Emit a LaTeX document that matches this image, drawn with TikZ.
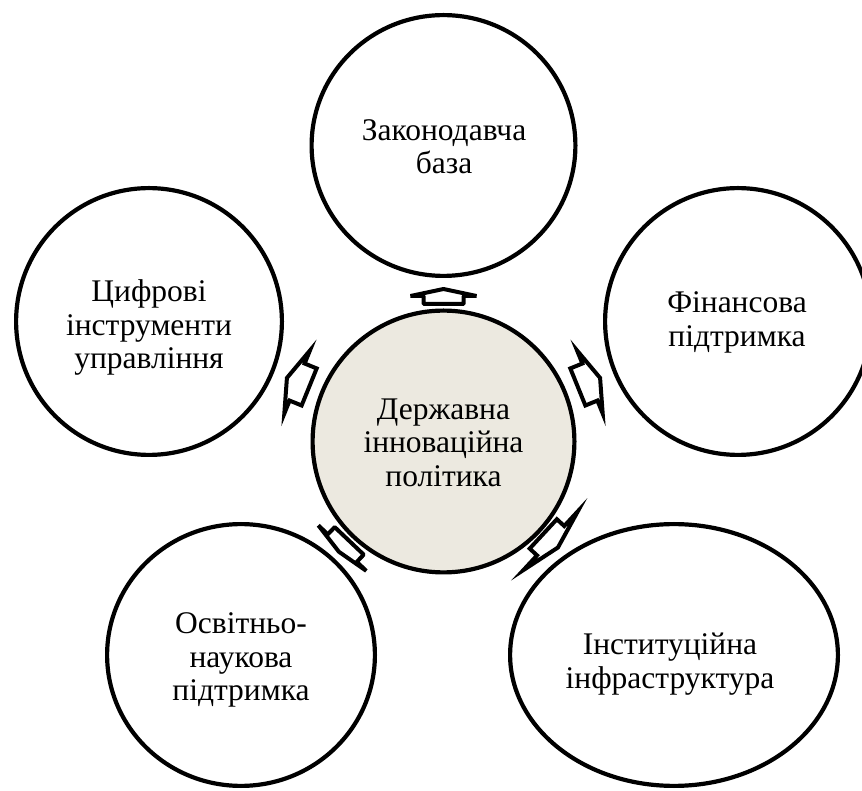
\documentclass[tikz,border=0pt]{standalone}
\usepackage{fontspec}
\setmainfont{Liberation Serif}
\usetikzlibrary{shapes.geometric}
\definecolor{centrefill}{RGB}{236,233,224}
\tikzset{
  bubble/.style={ellipse, draw=black, line width=4.2pt, fill=white, inner sep=0pt},
  caption/.style={align=center, inner sep=0pt, font=\fontsize{31.5}{33.5}\selectfont, text=black},
  arrowbox/.style={draw=black, fill=white, line width=4pt, line join=miter},
}
% #1 coordinate, #2 angle, #3 half head width, #4 head length, #5 half shaft width, #6 shaft length, #7 extra options
\newcommand{\blockarr}[7]{%
  \draw[arrowbox,#7,shift={(#1)},rotate=#2]
    (0,#5) -- (0,#3) -- (#4,0) -- (0,-#3) -- (0,-#5) -- (-#6,-#5) -- (-#6,#5) -- cycle;}
\begin{document}
\begin{tikzpicture}[x=1pt,y=1pt]
  \useasboundingbox (0,0) rectangle (862,790);
  \fill[white] (0,0) rectangle (862,790);
  \node[bubble, fill=centrefill, minimum width=261.8pt, minimum height=261.8pt] (core) at (443.5,348.5) {};
  \node[bubble, minimum width=263.8pt, minimum height=260.8pt] (law) at (443.5,644.5) {};
  \node[bubble, minimum width=265.8pt, minimum height=266.8pt] (fin) at (738,468.5) {};
  \node[bubble, minimum width=265.8pt, minimum height=266.8pt] (dig) at (149,468.5) {};
  \node[bubble, minimum width=267.8pt, minimum height=261.8pt] (edu) at (241,135) {};
  \node[bubble, minimum width=327.8pt, minimum height=261.8pt] (inst) at (674,135) {};
  \node[caption] (core-t) at ([yshift=-1pt]core.center) {Державна\\інноваційна\\політика};
  \node[caption] (law-t) at ([xshift=0.5pt,yshift=-1pt]law.center) {Законодавча\\база};
  \node[caption] (fin-t) at ([xshift=-1pt,yshift=-1pt]fin.center) {Фінансова\\підтримка};
  \node[caption] (dig-t) at ([yshift=-6pt]dig.center) {Цифрові\\інструменти\\управління};
  \node[caption] (edu-t) at ([yshift=-5pt]edu.center) {Освітньо-\\наукова\\підтримка};
  \node[caption] (inst-t) at ([xshift=-4pt,yshift=-9pt]inst.center) {Інституційна\\інфраструктура};
  \coordinate (a1) at ([shift={(90:145.5)}]core.center);
  \coordinate (a2) at ([shift={(157.9:158)}]core.center);
  \coordinate (a3) at ([shift={(22.1:158)}]core.center);
  \coordinate (a4) at ([shift={(-42.8:146)}]core.center);
  \coordinate (a5) at ([shift={(226.5:147)}]core.center);
  \blockarr{a1}{90}{33}{7}{20}{8}{line join=bevel}
  \blockarr{a2}{157.9}{34}{11}{20}{13}{}
  \blockarr{a3}{22.1}{34}{11}{20}{13}{}
  \blockarr{a4}{-42.8}{40}{10}{20}{10}{}
  \blockarr{a5}{226.5}{33}{5}{20}{10}{line join=bevel}
\end{tikzpicture}
\end{document}
